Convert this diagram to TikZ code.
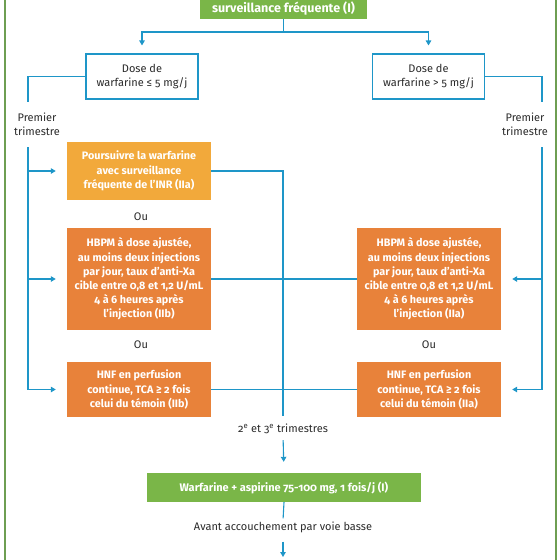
\documentclass[tikz,border=0pt]{standalone}
\usepackage{fontspec}
\setmainfont{Fira Sans}[Numbers=OldStyle]
\usetikzlibrary{arrows.meta}
\definecolor{lgreen}{HTML}{7AB648}
\definecolor{fgreen}{HTML}{6E9E52}
\definecolor{ybox}{HTML}{F2A93B}
\definecolor{obox}{HTML}{E8823A}
\definecolor{lblue}{HTML}{1E96C8}
\definecolor{txt}{HTML}{2A2A2A}
\begin{document}
\begin{tikzpicture}[x=1pt,y=-1pt,
  every node/.style={font=\fontsize{11}{14}\selectfont, text=txt, align=center},
  conn/.style={draw=lblue, line width=1.1pt},
  arr/.style={conn, -{Triangle[length=5pt,width=5.5pt]}},
  filledbox/.style={text=white, font=\fontsize{10.8}{14.2}\selectfont\bfseries, inner sep=3pt, minimum width=144},
  gbox/.style={filledbox, fill=lgreen},
  yelbox/.style={filledbox, fill=ybox},
  orbox/.style={filledbox, fill=obox},
  dbox/.style={draw=lblue, line width=1.1pt, fill=white, minimum width=112, minimum height=45, inner sep=2pt},
  lbl/.style={inner sep=1pt}
]
\useasboundingbox (0,0) rectangle (560,560);
\clip (0,0) rectangle (560,560);
\draw[draw=fgreen, line width=1.2pt] (5,-10) rectangle (556,570);

% nodes
\node[gbox, minimum width=167, anchor=south, inner sep=4pt, font=\fontsize{12.5}{15}\selectfont\bfseries] (g1) at (283.5,19) {\strut\\surveillance fréquente (I)};
\node[dbox] (d1) at (142,76.5) {Dose de\\warfarine ≤ 5 mg/j};
\node[dbox] (d2) at (428.5,76.5) {Dose de\\warfarine > 5 mg/j};
\node[lbl] (pt1) at (37,124) {Premier\\trimestre};
\node[lbl] (pt2) at (525,124) {Premier\\trimestre};
\node[yelbox, minimum height=58] (y1) at (139,171) {Poursuivre la warfarine\\avec surveillance\\fréquente de l’INR (IIa)};
\node[lbl] (o1) at (141,217) {Ou};
\node[orbox, minimum height=102] (h1) at (139,279) {HBPM à dose ajustée,\\au moins deux injections\\par jour, taux d’anti-Xa\\cible entre 0,8 et 1,2 U/mL\\4 à 6 heures après\\l’injection (IIb)};
\node[lbl] (o2) at (141,345) {Ou};
\node[orbox, minimum height=55] (n1) at (139,389.5) {HNF en perfusion\\continue, TCA ≥ 2 fois\\celui du témoin (IIb)};
\node[orbox, minimum height=102] (h2) at (429,279) {HBPM à dose ajustée,\\au moins deux injections\\par jour, taux d’anti-Xa\\cible entre 0,8 et 1,2 U/mL\\4 à 6 heures après\\l’injection (IIa)};
\node[lbl] (o3) at (429,345) {Ou};
\node[orbox, minimum height=55] (n2) at (429,389.5) {HNF en perfusion\\continue, TCA ≥ 2 fois\\celui du témoin (IIa)};
\node[lbl] (t23) at (283,429) {2\textsuperscript{e} et 3\textsuperscript{e} trimestres};
\node[gbox, minimum width=274, minimum height=29, font=\fontsize{11}{14}\selectfont\bfseries] (g2) at (284,487.5) {Warfarine + aspirine 75-100 mg, 1 fois/j (I)};
\node[lbl] (av) at (283,527) {Avant accouchement par voie basse};

% coordinates
\coordinate (top) at (283.5,32);
\coordinate (l1) at (28,102);
\coordinate (l2) at (28,147);
\coordinate (r1) at (542,102);
\coordinate (r2) at (542,147);
\coordinate (c1) at (283,416);
\coordinate (bend) at (283,557);

% connectors
\draw[conn] (g1.south) -- (top);
\draw[arr, shorten >=8pt] (top) -| (d1.north);
\draw[arr, shorten >=8pt] (top) -| (d2.north);
\draw[conn] (d1.west) -| (l1);
\draw[conn] (d2.east) -| (r1);
\draw[arr, shorten >=11pt] (l2) |- (y1.west);
\draw[arr, shorten >=11pt] (l2) |- (h1.west);
\draw[arr, shorten >=11pt] (l2) |- (n1.west);
\draw[arr, shorten >=11pt] (r2) |- (h2.east);
\draw[arr, shorten >=11pt] (r2) |- (n2.east);
\draw[conn] (y1.east) -| (c1);
\draw[conn] (h1.east) -- (h1.east -| c1);
\draw[conn] (n1.east) -- (n1.east -| c1);
\draw[conn] (h2.west) -- (h2.west -| c1);
\draw[conn] (n2.west) -- (n2.west -| c1);
\draw[arr, shorten <=5pt, shorten >=11pt] (t23.south) -- (g2.north);
\draw[conn, shorten >=2pt] (g2.south) -- (av.north);
\draw[arr, shorten <=8pt] (av.south) -- (bend);
\end{tikzpicture}
\end{document}
